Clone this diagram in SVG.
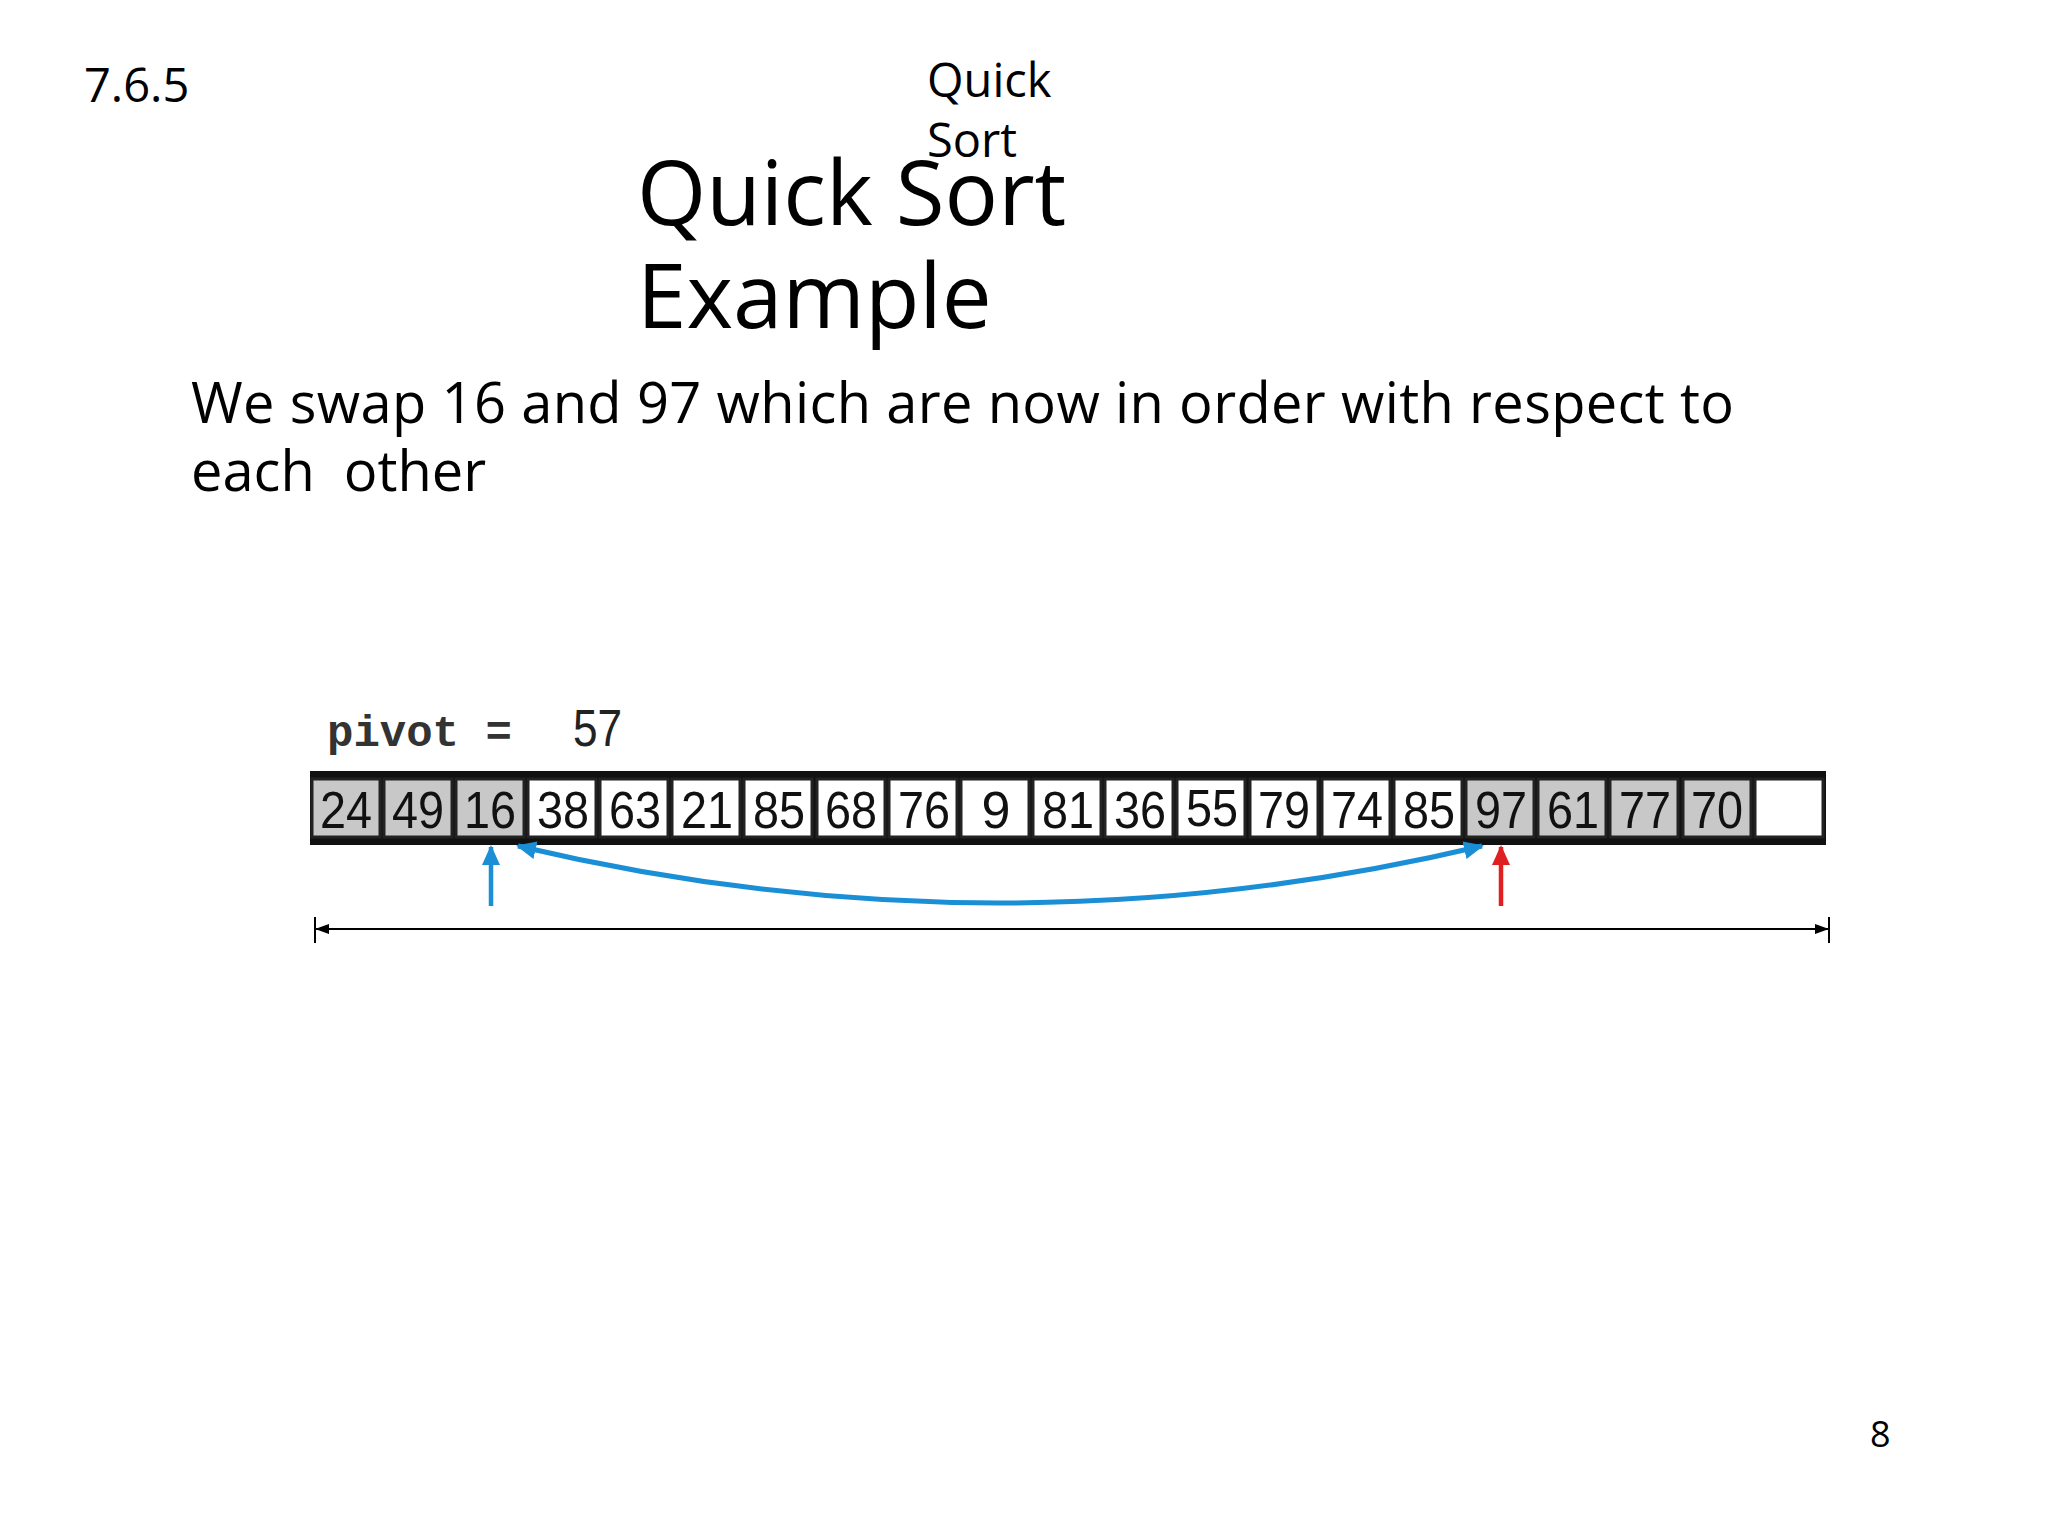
<svg xmlns="http://www.w3.org/2000/svg" width="2048" height="1535" viewBox="0 0 2048 1535">
<style>
.t{font-family:"Open Sans","Noto Sans",sans-serif;fill:#000}
.n{font-family:"Liberation Sans",Arial,sans-serif;font-size:52px;text-anchor:middle;fill:#111}
.g{fill:#c8c8c8;stroke:#222;stroke-width:3}
.w{fill:#fff;stroke:#222;stroke-width:3}
</style>
<defs>
<marker id="bl" markerWidth="20" markerHeight="18" refX="18" refY="9" orient="auto-start-reverse" markerUnits="userSpaceOnUse"><path d="M0,0L20,9L0,18Z" fill="#1b8fd6"/></marker>
<marker id="rd" markerWidth="20" markerHeight="18" refX="18" refY="9" orient="auto" markerUnits="userSpaceOnUse"><path d="M0,0L20,9L0,18Z" fill="#e02020"/></marker>
<marker id="bk" markerWidth="14" markerHeight="10" refX="14" refY="5" orient="auto-start-reverse" markerUnits="userSpaceOnUse"><path d="M0,0L14,5L0,10Z" fill="#000"/></marker>
</defs>
<rect width="2048" height="1535" fill="#fff"/>
<text class="t" x="84" y="102" font-size="47">7.6.5</text>
<text class="t" x="927" y="97" font-size="47">Quick</text>
<text class="t" x="927" y="157" font-size="47">Sort</text>
<text class="t" x="637" y="225" font-size="89">Quick Sort</text>
<text class="t" x="637" y="328" font-size="89">Example</text>
<text class="t" x="191" y="423" font-size="56" textLength="1543">We swap 16 and 97 which are now in order with respect to</text>
<text class="t" x="191" y="491" font-size="56" xml:space="preserve">each  other</text>
<text class="t" x="1870" y="1447" font-size="36">8</text>
<text x="327" y="746" font-family="Liberation Mono,monospace" font-weight="bold" font-size="44" fill="#333">pivot = </text>
<text x="573" y="746" font-family="Liberation Sans,sans-serif" font-size="52" fill="#222" transform="translate(573 0) scale(0.85 1) translate(-573 0)">57</text>
<g id="array">
<rect x="310" y="771" width="1516" height="74" fill="#111"/>
<g id="cells">
<rect class="g" x="312" y="779" width="68" height="58"/><text class="n" x="346" y="828" textLength="52" lengthAdjust="spacingAndGlyphs">24</text>
<rect class="g" x="384" y="779" width="68" height="58"/><text class="n" x="418" y="828" textLength="52" lengthAdjust="spacingAndGlyphs">49</text>
<rect class="g" x="456" y="779" width="68" height="58"/><text class="n" x="490" y="828" textLength="52" lengthAdjust="spacingAndGlyphs">16</text>
<rect class="w" x="528" y="779" width="68" height="58"/><text class="n" x="563" y="828" textLength="52" lengthAdjust="spacingAndGlyphs">38</text>
<rect class="w" x="600" y="779" width="68" height="58"/><text class="n" x="635" y="828" textLength="52" lengthAdjust="spacingAndGlyphs">63</text>
<rect class="w" x="672" y="779" width="68" height="58"/><text class="n" x="707" y="828" textLength="52" lengthAdjust="spacingAndGlyphs">21</text>
<rect class="w" x="744" y="779" width="68" height="58"/><text class="n" x="779" y="828" textLength="52" lengthAdjust="spacingAndGlyphs">85</text>
<rect class="w" x="817" y="779" width="68" height="58"/><text class="n" x="851" y="828" textLength="52" lengthAdjust="spacingAndGlyphs">68</text>
<rect class="w" x="889" y="779" width="68" height="58"/><text class="n" x="924" y="828" textLength="52" lengthAdjust="spacingAndGlyphs">76</text>
<rect class="w" x="961" y="779" width="68" height="58"/><text class="n" x="996" y="828">9</text>
<rect class="w" x="1033" y="779" width="68" height="58"/><text class="n" x="1068" y="828" textLength="52" lengthAdjust="spacingAndGlyphs">81</text>
<rect class="w" x="1105" y="779" width="68" height="58"/><text class="n" x="1140" y="828" textLength="52" lengthAdjust="spacingAndGlyphs">36</text>
<rect class="w" x="1177" y="779" width="68" height="58"/><text class="n" x="1212" y="826" textLength="52" lengthAdjust="spacingAndGlyphs">55</text>
<rect class="w" x="1250" y="779" width="68" height="58"/><text class="n" x="1284" y="828" textLength="52" lengthAdjust="spacingAndGlyphs">79</text>
<rect class="w" x="1322" y="779" width="68" height="58"/><text class="n" x="1357" y="828" textLength="52" lengthAdjust="spacingAndGlyphs">74</text>
<rect class="w" x="1394" y="779" width="68" height="58"/><text class="n" x="1429" y="828" textLength="52" lengthAdjust="spacingAndGlyphs">85</text>
<rect class="g" x="1466" y="779" width="68" height="58"/><text class="n" x="1501" y="828" textLength="52" lengthAdjust="spacingAndGlyphs">97</text>
<rect class="g" x="1538" y="779" width="68" height="58"/><text class="n" x="1573" y="828" textLength="52" lengthAdjust="spacingAndGlyphs">61</text>
<rect class="g" x="1610" y="779" width="68" height="58"/><text class="n" x="1645" y="828" textLength="52" lengthAdjust="spacingAndGlyphs">77</text>
<rect class="g" x="1683" y="779" width="68" height="58"/><text class="n" x="1717" y="828" textLength="52" lengthAdjust="spacingAndGlyphs">70</text>
<rect class="w" x="1755" y="779" width="68" height="58"/>
</g>
</g>
<g id="connectors" fill="none">
<line x1="491" y1="906" x2="491" y2="847" stroke="#1b8fd6" stroke-width="4.5" marker-end="url(#bl)"/>
<line x1="1501" y1="906" x2="1501" y2="847" stroke="#e02020" stroke-width="4.5" marker-end="url(#rd)"/>
<path d="M518,846 Q1000,960 1482,846" stroke="#1b8fd6" stroke-width="5" marker-start="url(#bl)" marker-end="url(#bl)"/>
<line x1="315" y1="929" x2="1829" y2="929" stroke="#000" stroke-width="2" marker-start="url(#bk)" marker-end="url(#bk)"/>
<line x1="315" y1="917" x2="315" y2="943" stroke="#000" stroke-width="2"/>
<line x1="1829" y1="917" x2="1829" y2="943" stroke="#000" stroke-width="2"/>
</g>
</svg>
